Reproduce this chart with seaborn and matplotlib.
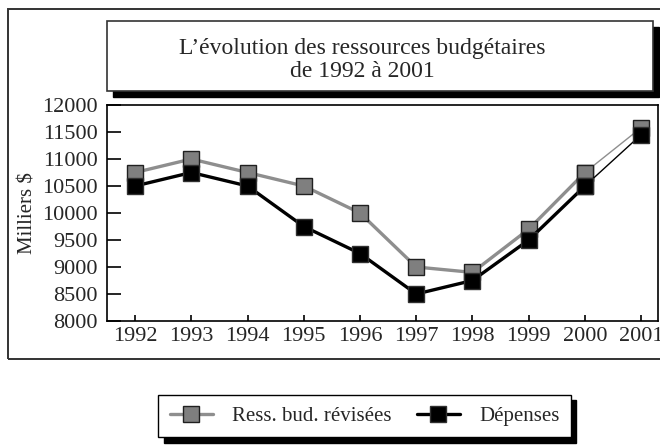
import matplotlib
matplotlib.use("Agg")
import matplotlib.pyplot as plt
import matplotlib.patches as mpatches
import seaborn as sns

# Données (milliers $)
years = [1992, 1993, 1994, 1995, 1996, 1997, 1998, 1999, 2000, 2001]
ress_revisees = [10750, 11000, 10750, 10500, 10000, 9000, 8900, 9700, 10750, 11580]
depenses = [10500, 10750, 10500, 9750, 9250, 8500, 8750, 9500, 10500, 11450]
yticks = [8000, 8500, 9000, 9500, 10000, 10500, 11000, 11500, 12000]

title_text = "L\u2019évolution des ressources budgétaires\nde 1992 à 2001"
label_ress = "Ress. bud. révisées"
label_dep = "Dépenses"
ylabel = "Milliers $"

GRAY_LINE = "#8e8e8e"
GRAY_FACE = "#7f7f7f"

sns.set_theme(style="ticks")
plt.rcParams["font.family"] = ["Liberation Serif", "DejaVu Serif"]
FS = 15

W, H = 660, 445
fig = plt.figure(figsize=(W / 100, H / 100), dpi=100)


def fx(px):
    return px / W


def fy(py):
    return 1 - py / H


# Cadre extérieur
fig.patches.append(mpatches.Rectangle((fx(8), fy(359)), fx(720), fy(9) - fy(359),
                                      transform=fig.transFigure, fill=False,
                                      edgecolor="#333333", lw=1.4, zorder=0))

# Boîte du titre avec ombre
sh = 6
fig.patches.append(mpatches.Rectangle((fx(107 + sh), fy(91 + sh)), fx(653 - 107), fy(21) - fy(91),
                                      transform=fig.transFigure, facecolor="black",
                                      edgecolor="black", lw=1, zorder=1))
fig.patches.append(mpatches.Rectangle((fx(107), fy(91)), fx(653 - 107), fy(21) - fy(91),
                                      transform=fig.transFigure, facecolor="white",
                                      edgecolor="#333333", lw=1.2, zorder=2))
fig.text(fx(362), fy(60), title_text, ha="center", va="center", fontsize=17,
         linespacing=1.15, zorder=3)

ax = fig.add_axes([fx(107), fy(321), fx(658 - 107), fy(105) - fy(321)])

line_kw = dict(marker="s", markersize=12, markeredgewidth=1.0)

# Ress. bud. révisées (gris)
sns.lineplot(x=years[:9], y=ress_revisees[:9], ax=ax, color=GRAY_LINE, lw=2.4,
             markerfacecolor=GRAY_FACE, markeredgecolor="#202020", label=label_ress, **line_kw)
sns.lineplot(x=years[8:], y=ress_revisees[8:], ax=ax, color=GRAY_LINE, lw=1.0,
             markerfacecolor=GRAY_FACE, markeredgecolor="#202020", **line_kw)

# Dépenses (noir)
sns.lineplot(x=years[:9], y=depenses[:9], ax=ax, color="black", lw=2.4,
             markerfacecolor="black", markeredgecolor="#303030", label=label_dep, **line_kw)
sns.lineplot(x=years[8:], y=depenses[8:], ax=ax, color="black", lw=1.0,
             markerfacecolor="black", markeredgecolor="#303030", **line_kw)

ax.set_xlim(1991.5, 2001.3)
ax.set_ylim(8000, 12000)
ax.set_xticks(years)
ax.set_xticklabels([str(y) for y in years])
ax.set_yticks(yticks)
ax.set_yticklabels([str(v) for v in yticks])
ax.tick_params(axis="y", direction="in", length=10, width=1.2, color="black",
               labelsize=16, pad=6.5)
ax.tick_params(axis="x", direction="in", length=4.5, width=1.2, color="black",
               labelsize=16, pad=4)
for s in ax.spines.values():
    s.set_color("black")
    s.set_linewidth(1.2)
ax.set_facecolor("white")
ax.set_xlabel("")
ax.set_ylabel(ylabel, fontsize=FS)
ax.yaxis.set_label_coords(-0.126, 0.5)

handles, labels = ax.get_legend_handles_labels()
if ax.get_legend() is not None:
    ax.get_legend().remove()
leg = fig.legend(handles, labels, loc="center", bbox_to_anchor=(fx(364.5), fy(416)),
                 ncol=2, fontsize=FS, frameon=True, fancybox=False, framealpha=1,
                 edgecolor="black", handlelength=2.1, handletextpad=0.9,
                 columnspacing=1.2, borderpad=0.55,
                 shadow={"ox": 4, "oy": -4, "color": "black", "alpha": 1})
leg.get_frame().set_linewidth(1.0)

fig.savefig("out.png", dpi=100)
